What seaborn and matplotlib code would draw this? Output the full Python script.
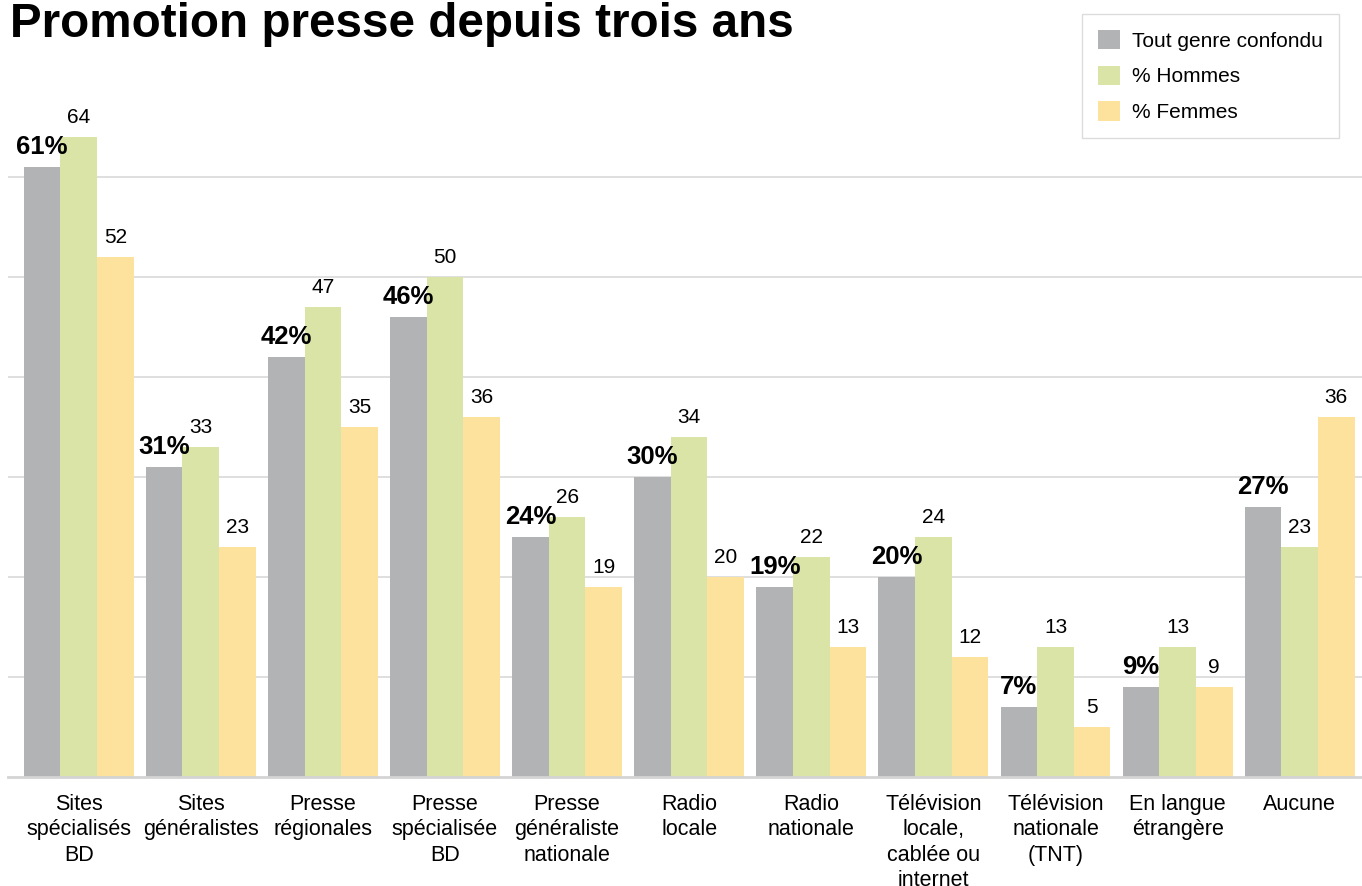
# Promotion presse depuis trois ans - grouped bar chart
import pandas as pd
import matplotlib
matplotlib.use("Agg")
import matplotlib.pyplot as plt
import seaborn as sns

# ------------------------------------------------------------
# Data
# ------------------------------------------------------------
categories = [
    "Sites\nspécialisés\nBD",
    "Sites\ngénéralistes",
    "Presse\nrégionales",
    "Presse\nspécialisée\nBD",
    "Presse\ngénéraliste\nnationale",
    "Radio\nlocale",
    "Radio\nnationale",
    "Télévision\nlocale,\ncablée ou\ninternet",
    "Télévision\nnationale\n(TNT)",
    "En langue\nétrangère",
    "Aucune",
]
tout = [61, 31, 42, 46, 24, 30, 19, 20, 7, 9, 27]
hommes = [64, 33, 47, 50, 26, 34, 22, 24, 13, 13, 23]
femmes = [52, 23, 35, 36, 19, 20, 13, 12, 5, 9, 36]

series_names = ["Tout genre confondu", "% Hommes", "% Femmes"]
colors = ["#b2b3b5", "#d9e4a6", "#fde29d"]

df = pd.DataFrame({
    "categorie": categories * 3,
    "serie": [series_names[0]] * 11 + [series_names[1]] * 11 + [series_names[2]] * 11,
    "valeur": tout + hommes + femmes,
})

# ------------------------------------------------------------
# Style
# ------------------------------------------------------------
sns.set_style("white")
plt.rcParams["font.family"] = ["Liberation Sans", "DejaVu Sans"]
plt.rcParams["text.color"] = "black"
plt.rcParams["xtick.color"] = "black"

fig = plt.figure(figsize=(13.62, 8.86), dpi=100)
ax = fig.add_axes([0.006, 0.12302, 0.994, 0.76749])

sns.barplot(
    data=df,
    x="categorie",
    y="valeur",
    hue="serie",
    hue_order=series_names,
    order=categories,
    palette=colors,
    width=0.9,
    gap=0,
    saturation=1,
    edgecolor="none",
    linewidth=0,
    ax=ax,
)

# value labels
for i, cont in enumerate(ax.containers):
    if i == 0:
        ax.bar_label(cont, labels=[f"{v}%" for v in tout], padding=6,
                     fontsize=18.5, fontweight="bold", color="black")
    else:
        vals = hommes if i == 1 else femmes
        ax.bar_label(cont, labels=[str(v) for v in vals], padding=7,
                     fontsize=15, color="black")

ax.set_xlim(-0.577, 10.51)
ax.set_ylim(0, 68)
ax.set_yticks([10, 20, 30, 40, 50, 60])
ax.set_yticklabels([])
ax.yaxis.grid(True, color="#d9d9d9", linewidth=1.2)
ax.set_axisbelow(True)
ax.tick_params(axis="x", length=0, pad=12, labelsize=15.5, labelcolor="black")
ax.tick_params(axis="y", length=0)
for lab in ax.get_xticklabels():
    lab.set_linespacing(1.28)
ax.set_xlabel("")
ax.set_ylabel("")

for side in ["top", "right", "left"]:
    ax.spines[side].set_visible(False)
ax.spines["bottom"].set_color("#d4d4d4")
ax.spines["bottom"].set_linewidth(2)

# legend
handles, labels = ax.get_legend_handles_labels()
ax.get_legend().remove()
leg = fig.legend(
    handles, labels,
    loc="upper right",
    bbox_to_anchor=(0.983, 0.984),
    bbox_transform=fig.transFigure,
    fontsize=15,
    frameon=True,
    fancybox=False,
    edgecolor="#d4d4d4",
    handlelength=1.05,
    handleheight=1.05,
    handletextpad=0.6,
    labelspacing=0.72,
    borderpad=0.75,
    borderaxespad=0,
)
leg.get_frame().set_linewidth(1)

# title (top is cut off in the original)
fig.text(0.007, 1 - 37 / 886, "Promotion presse depuis trois ans",
         fontsize=34.3, fontweight="bold", va="baseline", ha="left", color="black")

fig.savefig("out.png", dpi=100)
